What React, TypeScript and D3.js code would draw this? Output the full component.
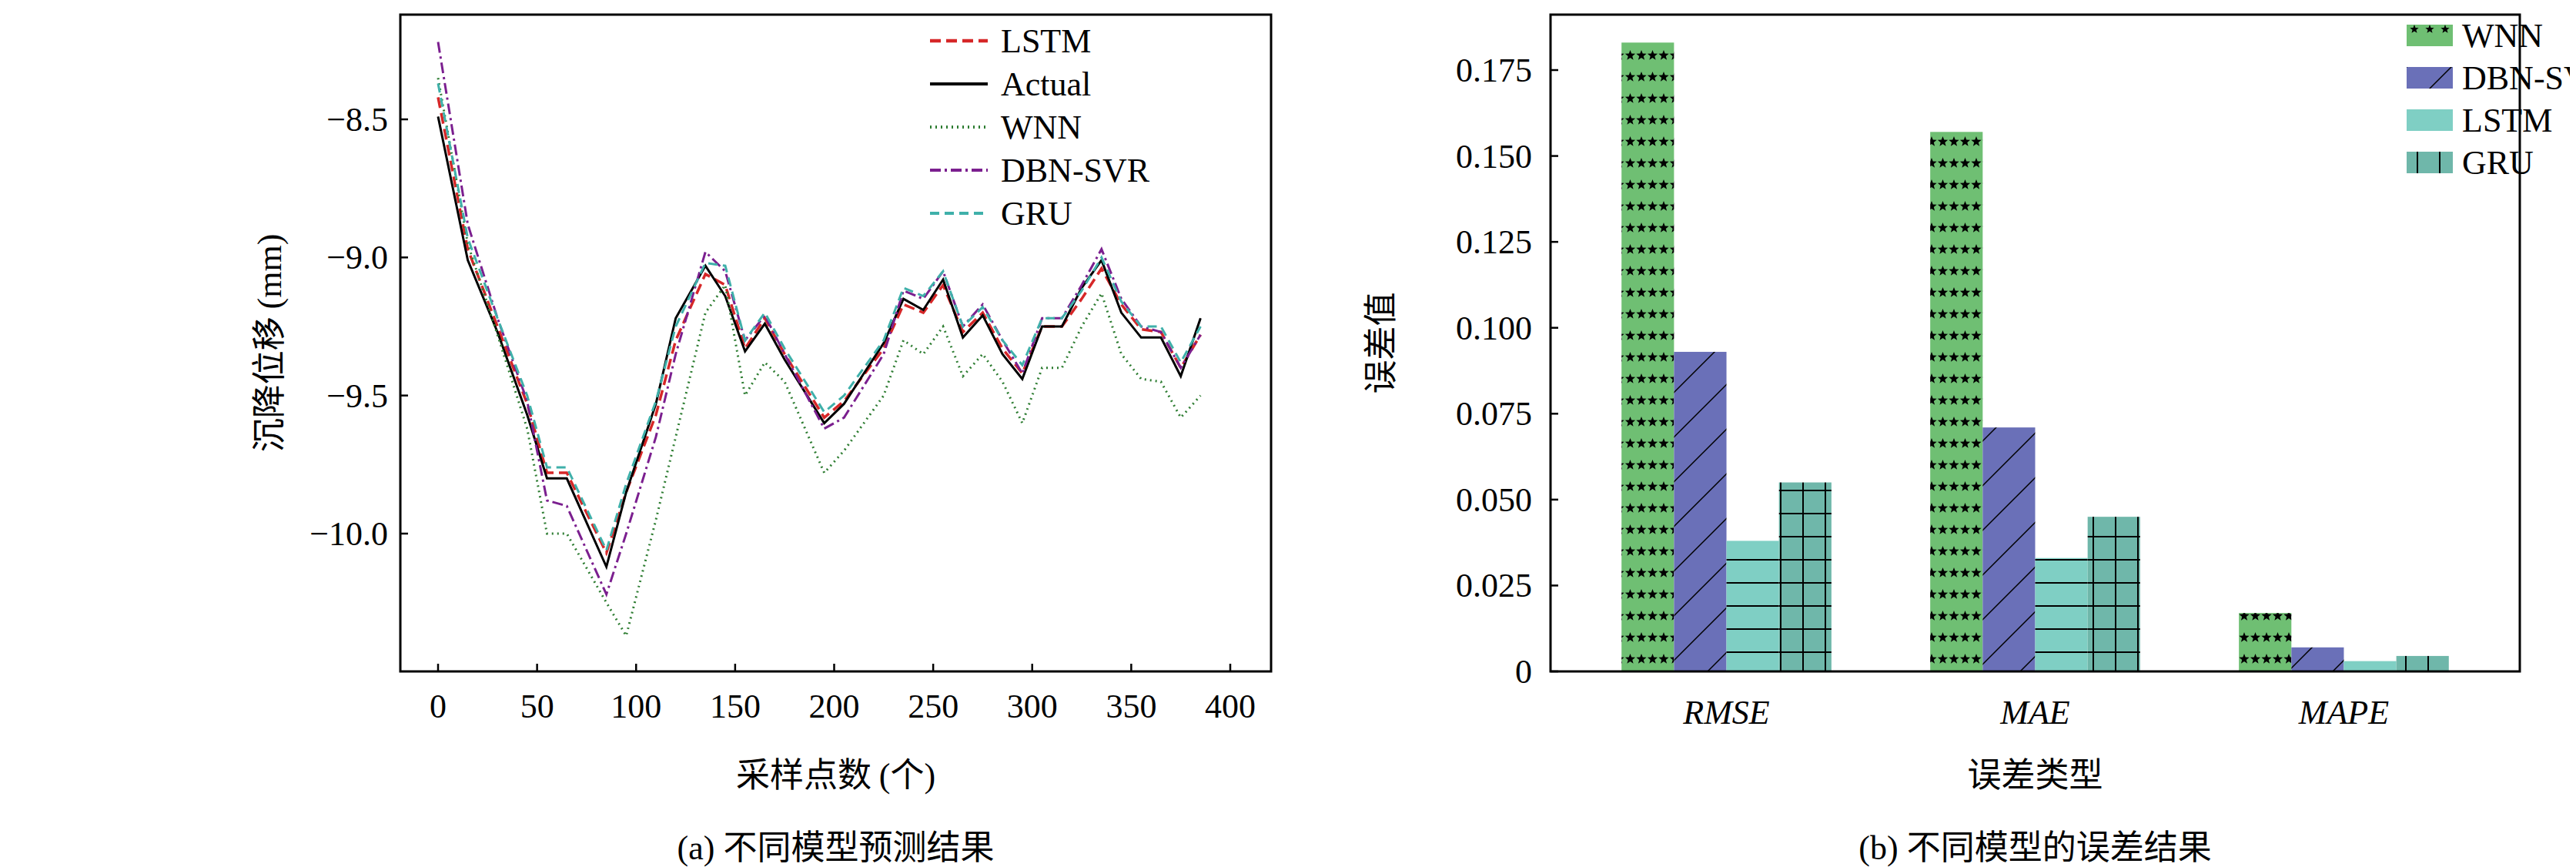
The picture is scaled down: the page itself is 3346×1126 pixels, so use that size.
import React from 'react';
import * as d3 from 'd3';

const sampleX = [0, 15, 30, 45, 55, 65, 85, 95, 110, 120, 135, 145, 155, 165, 175, 195, 205, 225, 235, 245, 255, 265, 275, 285, 295, 305, 315, 325, 335, 345, 355, 365, 375, 385];
const actual = [-8.49, -9.01, -9.27, -9.57, -9.8, -9.8, -10.12, -9.85, -9.53, -9.22, -9.03, -9.14, -9.34, -9.24, -9.37, -9.6, -9.53, -9.31, -9.15, -9.19, -9.08, -9.29, -9.21, -9.35, -9.44, -9.25, -9.25, -9.11, -9.01, -9.2, -9.29, -9.29, -9.43, -9.22];
const lstm = [-8.42, -8.97, -9.25, -9.53, -9.78, -9.78, -10.07, -9.85, -9.57, -9.3, -9.06, -9.1, -9.33, -9.22, -9.35, -9.58, -9.52, -9.33, -9.17, -9.2, -9.1, -9.27, -9.2, -9.33, -9.42, -9.25, -9.25, -9.15, -9.04, -9.17, -9.26, -9.27, -9.4, -9.28];
const gru = [-8.37, -8.93, -9.22, -9.5, -9.76, -9.76, -10.06, -9.82, -9.52, -9.25, -9.02, -9.03, -9.3, -9.2, -9.33, -9.56, -9.5, -9.3, -9.11, -9.14, -9.05, -9.25, -9.18, -9.3, -9.39, -9.22, -9.22, -9.12, -9.0, -9.16, -9.25, -9.25, -9.38, -9.25];
const dbnSvr = [-8.22, -8.88, -9.22, -9.52, -9.88, -9.9, -10.22, -10.0, -9.65, -9.35, -8.98, -9.05, -9.3, -9.21, -9.35, -9.62, -9.58, -9.35, -9.12, -9.15, -9.05, -9.25, -9.17, -9.3, -9.42, -9.22, -9.22, -9.1, -8.97, -9.15, -9.25, -9.27, -9.4, -9.28];
const wnn = [-8.35, -8.95, -9.28, -9.62, -10.0, -10.0, -10.25, -10.37, -9.95, -9.65, -9.2, -9.1, -9.5, -9.38, -9.45, -9.78, -9.7, -9.5, -9.3, -9.35, -9.25, -9.43, -9.35, -9.45, -9.6, -9.4, -9.4, -9.25, -9.13, -9.35, -9.44, -9.45, -9.58, -9.5];

const errCats = ['RMSE', 'MAE', 'MAPE'];
const barModels = ['WNN', 'DBN-SVR', 'LSTM', 'GRU'];
const barValues = [
  [0.183, 0.157, 0.017],
  [0.093, 0.071, 0.007],
  [0.038, 0.033, 0.003],
  [0.055, 0.045, 0.0045],
];
const yTicksB = [0, 0.025, 0.05, 0.075, 0.1, 0.125, 0.15, 0.175];

const serif = '"Liberation Serif", "Times New Roman", serif';
const cjk = '"Noto Sans CJK SC", sans-serif';
const fs = 44;

const lineSeries = [
  { name: 'LSTM', data: lstm, color: '#d62728', dash: '14,7', w: 3.5 },
  { name: 'Actual', data: actual, color: '#000', dash: '', w: 3 },
  { name: 'WNN', data: wnn, color: '#2e7d32', dash: '2,5', w: 3 },
  { name: 'DBN-SVR', data: dbnSvr, color: '#7b1f8f', dash: '14,5,3,5', w: 3 },
  { name: 'GRU', data: gru, color: '#3fb0aa', dash: '12,7', w: 3 },
];

const barFill = ['url(#pStar)', 'url(#pDiag)', 'url(#pHor)', 'url(#pGrid)'];
const legendFill = ['url(#pStarL)', 'url(#pDiag)', 'url(#pHor)', 'url(#pGrid)'];

function LeftChart() {
  const L = 512, R = 1643, T = 11, B = 864;
  const x = d3.scaleLinear().domain([0, 400]).range([561, 1590]);
  const y = d3.scaleLinear().domain([-8.5, -10]).range([147, 685]);
  const line = d3.line<number>().x((_, i) => x(sampleX[i])).y(d => y(d));
  return (
    <g>
      {lineSeries.map(s => (
        <path key={s.name} d={line(s.data) || ''} fill="none" stroke={s.color} strokeWidth={s.w} strokeDasharray={s.dash} />
      ))}
      <rect x={L} y={T} width={R - L} height={B - T} fill="none" stroke="#000" strokeWidth={3} />
      {x.ticks(8).map(t => (
        <g key={t}>
          <line x1={x(t)} x2={x(t)} y1={B} y2={B - 10} stroke="#000" strokeWidth={2.5} />
          <text x={x(t)} y={B + 60} textAnchor="middle" fontFamily={serif} fontSize={fs}>{t}</text>
        </g>
      ))}
      {[-8.5, -9, -9.5, -10].map(t => (
        <g key={t}>
          <line x1={L} x2={L + 10} y1={y(t)} y2={y(t)} stroke="#000" strokeWidth={2.5} />
          <text x={L - 16} y={y(t) + 15} textAnchor="end" fontFamily={serif} fontSize={fs}>{'\u2212' + Math.abs(t).toFixed(1)}</text>
        </g>
      ))}
      <text transform={`translate(${L - 155},${(T + B) / 2}) rotate(-90)`} textAnchor="middle" fontSize={fs}>
        <tspan fontFamily={cjk}>沉降位移 </tspan><tspan fontFamily={serif}>(mm)</tspan>
      </text>
      <text x={(L + R) / 2} y={1014} textAnchor="middle" fontSize={fs}>
        <tspan fontFamily={cjk}>采样点数 </tspan><tspan fontFamily={serif}>(</tspan><tspan fontFamily={cjk}>个</tspan><tspan fontFamily={serif}>)</tspan>
      </text>
      <text x={(L + R) / 2} y={1108} textAnchor="middle" fontSize={fs}>
        <tspan fontFamily={serif}>(a) </tspan><tspan fontFamily={cjk}>不同模型预测结果</tspan>
      </text>
      {lineSeries.map((s, i) => (
        <g key={s.name} transform={`translate(1200,${45 + i * 56})`}>
          <line x1={0} x2={75} y1={0} y2={0} stroke={s.color} strokeWidth={s.w + 1} strokeDasharray={s.dash} />
          <text x={92} y={15} fontFamily={serif} fontSize={fs}>{s.name}</text>
        </g>
      ))}
    </g>
  );
}

function RightChart() {
  const L = 2006, R = 3265, T = 11, B = 864;
  const x0 = d3.scaleBand().domain(errCats).range([L, R]).paddingInner(0.32).paddingOuter(0.23);
  const x1 = d3.scaleBand().domain(barModels).range([0, x0.bandwidth()]);
  const y = d3.scaleLinear().domain([0, 0.175]).range([B, 83]);
  return (
    <g>
      {barModels.map((m, mi) => errCats.map((c, ci) => (
        <rect key={m + c} x={(x0(c) || 0) + (x1(m) || 0)} y={y(barValues[mi][ci])} width={x1.bandwidth()}
          height={B - y(barValues[mi][ci])} fill={barFill[mi]} />
      )))}
      <rect x={L} y={T} width={R - L} height={B - T} fill="none" stroke="#000" strokeWidth={3} />
      {yTicksB.map(t => (
        <g key={t}>
          <line x1={L} x2={L + 10} y1={y(t)} y2={y(t)} stroke="#000" strokeWidth={2.5} />
          <text x={L - 24} y={y(t) + 15} textAnchor="end" fontFamily={serif} fontSize={fs}>{t === 0 ? '0' : t.toFixed(3)}</text>
        </g>
      ))}
      {errCats.map(c => (
        <text key={c} x={(x0(c) || 0) + x0.bandwidth() / 2} y={B + 68} textAnchor="middle" fontFamily={serif} fontStyle="italic" fontSize={fs}>{c}</text>
      ))}
      <text transform={`translate(${L - 205},${(T + B) / 2}) rotate(-90)`} textAnchor="middle" fontFamily={cjk} fontSize={fs}>误差值</text>
      <text x={(L + R) / 2} y={1014} textAnchor="middle" fontFamily={cjk} fontSize={fs}>误差类型</text>
      <text x={(L + R) / 2} y={1108} textAnchor="middle" fontSize={fs}>
        <tspan fontFamily={serif}>(b) </tspan><tspan fontFamily={cjk}>不同模型的误差结果</tspan>
      </text>
      {barModels.map((m, i) => (
        <g key={m} transform={`translate(3118,${24 + i * 55})`}>
          <rect x={0} y={0} width={60} height={28} fill={legendFill[i]} />
          <text x={72} y={29} fontFamily={serif} fontSize={fs}>{m}</text>
        </g>
      ))}
    </g>
  );
}

function starPath(cx: number, cy: number, r: number) {
  const pts: string[] = [];
  for (let i = 0; i < 10; i++) {
    const a = -Math.PI / 2 + (i * Math.PI) / 5;
    const rr = i % 2 === 0 ? r : r * 0.42;
    pts.push(`${cx + rr * Math.cos(a)},${cy + rr * Math.sin(a)}`);
  }
  return 'M' + pts.join('L') + 'Z';
}

export default function App() {
  return (
    <svg width={3330} height={1126} style={{ display: 'block', background: '#fff' }}>
      <defs>
        <pattern id="pStar" patternUnits="userSpaceOnUse" width={29} height={28}>
          <rect width={29} height={28} fill="#6fbf73" />
          <path d={starPath(7, 8, 7)} fill="#000" />
          <path d={starPath(21.5, 8, 7)} fill="#000" />
        </pattern>
        <pattern id="pStarL" patternUnits="userSpaceOnUse" width={20} height={28}>
          <rect width={20} height={28} fill="#6fbf73" />
          <path d={starPath(10, 6, 6)} fill="#000" />
        </pattern>
        <pattern id="pDiag" patternUnits="userSpaceOnUse" width={58} height={58}>
          <rect width={58} height={58} fill="#6a70b8" />
          <path d="M0,58L58,0M-29,29L29,-29M29,87L87,29" stroke="#000" strokeWidth={1.5} />
        </pattern>
        <pattern id="pHor" patternUnits="userSpaceOnUse" width={30} height={30}>
          <rect width={30} height={30} fill="#7fcfc4" />
          <line x1={0} x2={30} y1={29} y2={29} stroke="#000" strokeWidth={2} />
        </pattern>
        <pattern id="pGrid" patternUnits="userSpaceOnUse" width={29} height={30}>
          <rect width={29} height={30} fill="#6fb7aa" />
          <line x1={0} x2={29} y1={29} y2={29} stroke="#000" strokeWidth={2} />
          <line x1={14} x2={14} y1={0} y2={30} stroke="#000" strokeWidth={2} />
        </pattern>
      </defs>
      <LeftChart />
      <RightChart />
    </svg>
  );
}
